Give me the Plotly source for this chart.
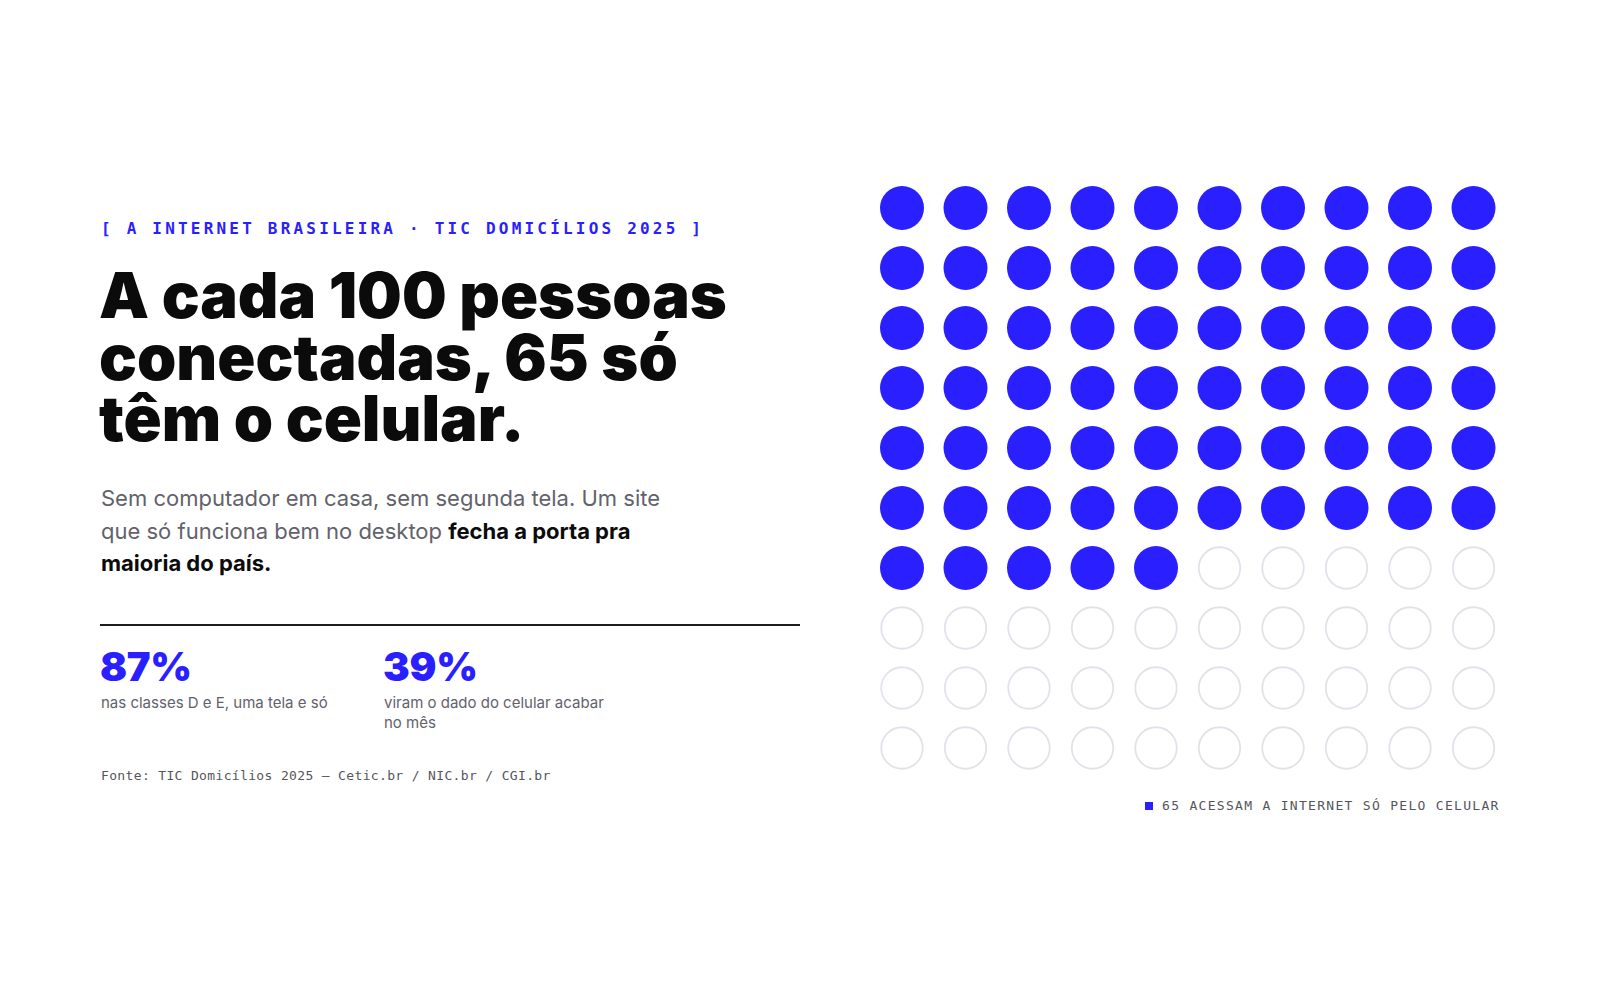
import plotly.graph_objects as go

# ---------------- data ----------------
total_people = 100
mobile_only = 65
grid_cols = 10

kicker = "[ A INTERNET BRASILEIRA · TIC DOMICÍLIOS 2025 ]"
title_lines = ["A cada 100 pessoas", "conectadas, 65 só", "têm o celular."]
sub_lines = [
    ("Sem computador em casa, sem segunda tela. Um site", ""),
    ("que só funciona bem no desktop ", "fecha a porta pra"),
    ("", "maioria do país."),
]
stat_values = ["87%", "39%"]
stat_labels = [["nas classes D e E, uma tela e só"], ["viram o dado do celular acabar", "no mês"]]
source = "Fonte: TIC Domicílios 2025 — Cetic.br / NIC.br / CGI.br"
legend_label = f"{mobile_only} ACESSAM A INTERNET SÓ PELO CELULAR"

# ---------------- style ----------------
W, H = 1600, 1000
BLUE = "#2a20ff"
INK = "#0b0b0b"
GREY = "#62626c"
MONO_GREY = "#55555c"
RING = "#e2e2ea"
SANS = "Inter, 'Noto Sans', sans-serif"
MONO = "'DejaVu Sans Mono', 'Liberation Mono', monospace"


def xp(px):
    return px / W


def yp(py):
    return 1 - py / H


idx = list(range(total_people))
cols = [i % grid_cols for i in idx]
rows = [i // grid_cols for i in idx]
filled = [i < mobile_only for i in idx]

fig = go.Figure()
fig.add_trace(go.Scatter(
    x=[c for c, f in zip(cols, filled) if not f],
    y=[r for r, f in zip(rows, filled) if not f],
    mode="markers",
    marker=dict(symbol="circle", size=41.5, color="rgba(255,255,255,0)",
                line=dict(color=RING, width=1.8)),
    hoverinfo="skip", showlegend=False,
))
fig.add_trace(go.Scatter(
    x=[c for c, f in zip(cols, filled) if f],
    y=[r for r, f in zip(rows, filled) if f],
    mode="markers",
    marker=dict(symbol="circle", size=44, color=BLUE, line=dict(width=0)),
    hoverinfo="skip", showlegend=False,
))

ann = []


def text(x, y, s, size, color, family=SANS, weight=400, anchor="left", spacing=None):
    if spacing is not None:
        s = f'<span style="letter-spacing:{spacing}px">{s}</span>'
    ann.append(dict(x=xp(x), y=yp(y), xref="paper", yref="paper", text=s,
                    showarrow=False, xanchor=anchor, yanchor="middle", align=anchor,
                    font=dict(family=family, size=size, color=color, weight=weight)))


text(99, 229, kicker, 16, BLUE, MONO, 700, spacing=3.2)
for i, line in enumerate(title_lines):
    text(97, [295, 357, 418][i], line, 63, INK, SANS, 900, spacing=0)
for i, (g, b) in enumerate(sub_lines):
    s = g
    if b:
        s += f'<span style="color:{INK}"><b>{b}</b></span>'
    text(99, [498, 531, 563][i], s, 22, GREY, SANS, 400)

for j, (val, labels) in enumerate(zip(stat_values, stat_labels)):
    x0 = [100, 383][j]
    text(x0 - 2, 666, val, 40, BLUE, SANS, 900, spacing=-0.3)
    for k, lab in enumerate(labels):
        text(x0 - 1, 702 + 20 * k, lab, 15, GREY, SANS, 400)

text(99, 775, source, 13, MONO_GREY, MONO, 400, spacing=0.35)
text(1502, 805, legend_label, 13, MONO_GREY, MONO, 400, anchor="right", spacing=1.3)

shapes = [
    dict(type="line", xref="paper", yref="paper", x0=xp(100), x1=xp(800),
         y0=yp(625), y1=yp(625), line=dict(color="#1c1c1c", width=2)),
    dict(type="rect", xref="paper", yref="paper", x0=xp(1145), x1=xp(1153),
         y0=yp(810), y1=yp(802), fillcolor=BLUE, line=dict(width=0)),
]

fig.update_layout(
    width=W, height=H, margin=dict(l=0, r=0, t=0, b=0),
    paper_bgcolor="white", plot_bgcolor="white",
    xaxis=dict(domain=[870.25 / W, 1505.25 / W], range=[-0.5, 9.5], visible=False, fixedrange=True),
    yaxis=dict(domain=[1 - 778 / H, 1 - 178 / H], range=[9.5, -0.5], visible=False, fixedrange=True),
    annotations=ann, shapes=shapes, hovermode=False,
)

fig.write_html("out.html", config={"displayModeBar": False})
